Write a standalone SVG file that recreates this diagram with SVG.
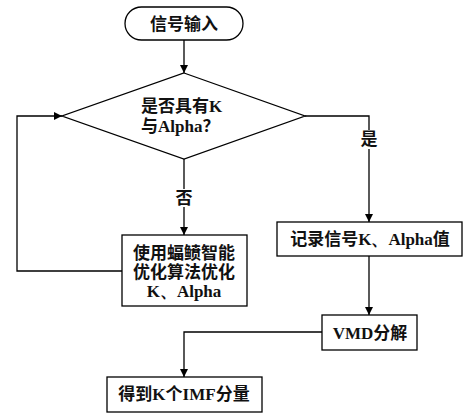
<svg xmlns="http://www.w3.org/2000/svg" width="463" height="414" viewBox="0 0 463 414">
<style>
.shape{fill:#fff;stroke:#000;stroke-width:1.3}
.conn{fill:none;stroke:#000;stroke-width:1.3}
text{font-family:"Liberation Serif","Noto Sans CJK SC",serif;font-size:17px;fill:#111;text-anchor:middle}
.zh{font-family:"Noto Sans CJK SC",sans-serif;font-weight:600}
.en{font-family:"Liberation Serif",serif;font-weight:bold}
</style>
<defs>
<marker id="arr" markerWidth="8" markerHeight="8" refX="8" refY="4" orient="auto" markerUnits="userSpaceOnUse">
<path d="M0,0 L8,4 L0,8 Z" fill="#000"/>
</marker>
</defs>
<rect width="463" height="414" fill="#fff"/>
<g id="connectors">
<path class="conn" d="M184,40 V73" marker-end="url(#arr)"/>
<path class="conn" d="M184,159 V189"/>
<path class="conn" d="M184,207 V235" marker-end="url(#arr)"/>
<path class="conn" d="M305,116 H369 V130"/>
<path class="conn" d="M369,149 V222" marker-end="url(#arr)"/>
<path class="conn" d="M122,271 H17 V116 H62" marker-end="url(#arr)"/>
<path class="conn" d="M369,256 V315" marker-end="url(#arr)"/>
<path class="conn" d="M322,332 H184 V377" marker-end="url(#arr)"/>
<text x="184" y="204" class="zh">否</text>
<text x="369" y="145" class="zh">是</text>
</g>
<g id="start">
<rect class="shape" x="125" y="7" width="118" height="33" rx="16.5"/>
<text x="184" y="30" class="zh">信号输入</text>
</g>
<g id="decision">
<polygon class="shape" points="184,73 305,116 184,159 62,116"/>
<text x="141" y="112" style="text-anchor:start"><tspan class="zh">是否具有</tspan><tspan class="en">K</tspan></text>
<text x="141" y="132" style="text-anchor:start"><tspan class="zh">与</tspan><tspan class="en">Alpha</tspan><tspan class="zh">？</tspan></text>
</g>
<g id="optimize">
<rect class="shape" x="122" y="235" width="125" height="71"/>
<text x="184" y="259" class="zh">使用蝠鲼智能</text>
<text x="184" y="278" class="zh">优化算法优化</text>
<text x="184" y="297" class="en">K、Alpha</text>
</g>
<g id="record">
<rect class="shape" x="277" y="222" width="185" height="34"/>
<text x="370" y="245" font-size="16"><tspan class="zh">记录信号</tspan><tspan class="en">K、Alpha</tspan><tspan class="zh">值</tspan></text>
</g>
<g id="vmd">
<rect class="shape" x="322" y="315" width="95" height="35"/>
<text x="370" y="339" font-size="16"><tspan class="en">VMD</tspan><tspan class="zh">分解</tspan></text>
</g>
<g id="imf">
<rect class="shape" x="107" y="377" width="155" height="35"/>
<text x="184" y="400" font-size="16"><tspan class="zh">得到</tspan><tspan class="en">K</tspan><tspan class="zh">个</tspan><tspan class="en">IMF</tspan><tspan class="zh">分量</tspan></text>
</g>
</svg>
